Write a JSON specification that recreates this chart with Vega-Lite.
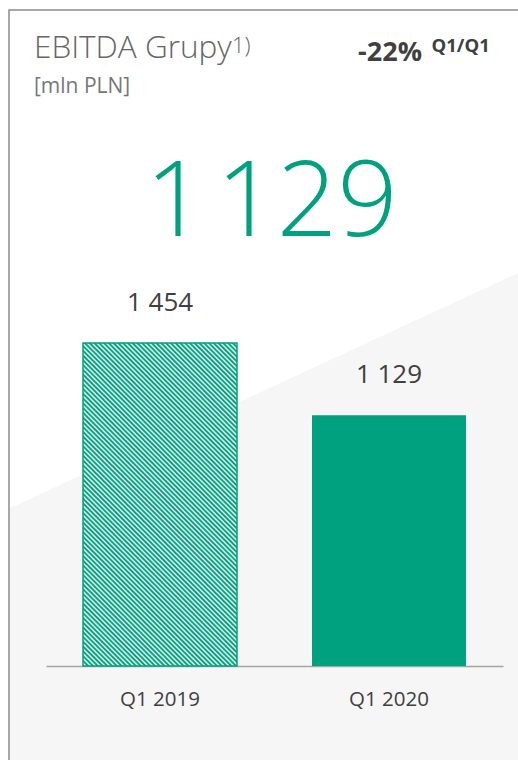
{
  "$schema": "https://vega.github.io/schema/vega-lite/v6.json",
  "autosize": {"type": "none"},
  "padding": {"left": 9, "top": 10, "right": 0, "bottom": 0},
  "width": 509,
  "height": 750,
  "background": "#ffffff",
  "config": {
    "font": "Open Sans",
    "locale": {"number": {"decimal": ",", "thousands": " ", "grouping": [3], "currency": ["", " zł"]}}
  },
  "view": {
    "fill": {"gradient": "linear", "x1": -0.00314, "y1": 0.6547, "x2": 0.00314, "y2": 0.6747,
      "stops": [{"offset": 0, "color": "#ffffff"}, {"offset": 0.5, "color": "#ffffff"}, {"offset": 0.5, "color": "#f6f6f6"}, {"offset": 1, "color": "#f6f6f6"}]},
    "stroke": "#8c8c8c",
    "strokeWidth": 1.5,
    "strokeDash": [509, 1259, 750]
  },
  "title": {
    "text": "EBITDA Grupy",
    "subtitle": "[mln PLN]",
    "anchor": "start",
    "frame": "group",
    "orient": "top",
    "dx": 25,
    "offset": -87,
    "font": "Open Sans",
    "fontSize": 31.5,
    "fontWeight": 300,
    "color": "#666666",
    "subtitleFont": "Open Sans",
    "subtitleFontSize": 21,
    "subtitleFontWeight": 400,
    "subtitleColor": "#777777",
    "subtitlePadding": 12
  },
  "data": {"values": [
    {"period": "Q1 2019", "value": 1454},
    {"period": "Q1 2020", "value": 1129}
  ]},
  "layer": [
    {
      "transform": [{"filter": "datum.period === 'Q1 2019'"}],
      "mark": {"type": "bar", "stroke": "#00a17e", "strokeWidth": 1.5,
        "fill": {"gradient": "linear", "x1": 0, "y1": 1, "x2": 0.5737, "y2": -0.2033, "stops": [
{"offset":0,"color":"#00a17e"},{"offset":0.002,"color":"#00a17e"},{"offset":0.006,"color":"#fff"},{"offset":0.01,"color":"#00a17e"},{"offset":0.012,"color":"#00a17e"},{"offset":0.016,"color":"#fff"},{"offset":0.02,"color":"#00a17e"},{"offset":0.022,"color":"#00a17e"},{"offset":0.026,"color":"#fff"},{"offset":0.03,"color":"#00a17e"},{"offset":0.032,"color":"#00a17e"},{"offset":0.036,"color":"#fff"},{"offset":0.04,"color":"#00a17e"},{"offset":0.042,"color":"#00a17e"},{"offset":0.046,"color":"#fff"},
{"offset":0.05,"color":"#00a17e"},{"offset":0.052,"color":"#00a17e"},{"offset":0.056,"color":"#fff"},{"offset":0.06,"color":"#00a17e"},{"offset":0.062,"color":"#00a17e"},{"offset":0.066,"color":"#fff"},{"offset":0.07,"color":"#00a17e"},{"offset":0.072,"color":"#00a17e"},{"offset":0.076,"color":"#fff"},{"offset":0.08,"color":"#00a17e"},{"offset":0.082,"color":"#00a17e"},{"offset":0.086,"color":"#fff"},{"offset":0.09,"color":"#00a17e"},{"offset":0.092,"color":"#00a17e"},{"offset":0.096,"color":"#fff"},
{"offset":0.1,"color":"#00a17e"},{"offset":0.102,"color":"#00a17e"},{"offset":0.106,"color":"#fff"},{"offset":0.11,"color":"#00a17e"},{"offset":0.112,"color":"#00a17e"},{"offset":0.116,"color":"#fff"},{"offset":0.12,"color":"#00a17e"},{"offset":0.122,"color":"#00a17e"},{"offset":0.126,"color":"#fff"},{"offset":0.13,"color":"#00a17e"},{"offset":0.132,"color":"#00a17e"},{"offset":0.136,"color":"#fff"},{"offset":0.14,"color":"#00a17e"},{"offset":0.142,"color":"#00a17e"},{"offset":0.146,"color":"#fff"},
{"offset":0.15,"color":"#00a17e"},{"offset":0.152,"color":"#00a17e"},{"offset":0.156,"color":"#fff"},{"offset":0.16,"color":"#00a17e"},{"offset":0.162,"color":"#00a17e"},{"offset":0.166,"color":"#fff"},{"offset":0.17,"color":"#00a17e"},{"offset":0.172,"color":"#00a17e"},{"offset":0.176,"color":"#fff"},{"offset":0.18,"color":"#00a17e"},{"offset":0.182,"color":"#00a17e"},{"offset":0.186,"color":"#fff"},{"offset":0.19,"color":"#00a17e"},{"offset":0.192,"color":"#00a17e"},{"offset":0.196,"color":"#fff"},
{"offset":0.2,"color":"#00a17e"},{"offset":0.202,"color":"#00a17e"},{"offset":0.206,"color":"#fff"},{"offset":0.21,"color":"#00a17e"},{"offset":0.212,"color":"#00a17e"},{"offset":0.216,"color":"#fff"},{"offset":0.22,"color":"#00a17e"},{"offset":0.222,"color":"#00a17e"},{"offset":0.226,"color":"#fff"},{"offset":0.23,"color":"#00a17e"},{"offset":0.232,"color":"#00a17e"},{"offset":0.236,"color":"#fff"},{"offset":0.24,"color":"#00a17e"},{"offset":0.242,"color":"#00a17e"},{"offset":0.246,"color":"#fff"},
{"offset":0.25,"color":"#00a17e"},{"offset":0.252,"color":"#00a17e"},{"offset":0.256,"color":"#fff"},{"offset":0.26,"color":"#00a17e"},{"offset":0.262,"color":"#00a17e"},{"offset":0.266,"color":"#fff"},{"offset":0.27,"color":"#00a17e"},{"offset":0.272,"color":"#00a17e"},{"offset":0.276,"color":"#fff"},{"offset":0.28,"color":"#00a17e"},{"offset":0.282,"color":"#00a17e"},{"offset":0.286,"color":"#fff"},{"offset":0.29,"color":"#00a17e"},{"offset":0.292,"color":"#00a17e"},{"offset":0.296,"color":"#fff"},
{"offset":0.3,"color":"#00a17e"},{"offset":0.302,"color":"#00a17e"},{"offset":0.306,"color":"#fff"},{"offset":0.31,"color":"#00a17e"},{"offset":0.312,"color":"#00a17e"},{"offset":0.316,"color":"#fff"},{"offset":0.32,"color":"#00a17e"},{"offset":0.322,"color":"#00a17e"},{"offset":0.326,"color":"#fff"},{"offset":0.33,"color":"#00a17e"},{"offset":0.332,"color":"#00a17e"},{"offset":0.336,"color":"#fff"},{"offset":0.34,"color":"#00a17e"},{"offset":0.342,"color":"#00a17e"},{"offset":0.346,"color":"#fff"},
{"offset":0.35,"color":"#00a17e"},{"offset":0.352,"color":"#00a17e"},{"offset":0.356,"color":"#fff"},{"offset":0.36,"color":"#00a17e"},{"offset":0.362,"color":"#00a17e"},{"offset":0.366,"color":"#fff"},{"offset":0.37,"color":"#00a17e"},{"offset":0.372,"color":"#00a17e"},{"offset":0.376,"color":"#fff"},{"offset":0.38,"color":"#00a17e"},{"offset":0.382,"color":"#00a17e"},{"offset":0.386,"color":"#fff"},{"offset":0.39,"color":"#00a17e"},{"offset":0.392,"color":"#00a17e"},{"offset":0.396,"color":"#fff"},
{"offset":0.4,"color":"#00a17e"},{"offset":0.402,"color":"#00a17e"},{"offset":0.406,"color":"#fff"},{"offset":0.41,"color":"#00a17e"},{"offset":0.412,"color":"#00a17e"},{"offset":0.416,"color":"#fff"},{"offset":0.42,"color":"#00a17e"},{"offset":0.422,"color":"#00a17e"},{"offset":0.426,"color":"#fff"},{"offset":0.43,"color":"#00a17e"},{"offset":0.432,"color":"#00a17e"},{"offset":0.436,"color":"#fff"},{"offset":0.44,"color":"#00a17e"},{"offset":0.442,"color":"#00a17e"},{"offset":0.446,"color":"#fff"},
{"offset":0.45,"color":"#00a17e"},{"offset":0.452,"color":"#00a17e"},{"offset":0.456,"color":"#fff"},{"offset":0.46,"color":"#00a17e"},{"offset":0.462,"color":"#00a17e"},{"offset":0.466,"color":"#fff"},{"offset":0.47,"color":"#00a17e"},{"offset":0.472,"color":"#00a17e"},{"offset":0.476,"color":"#fff"},{"offset":0.48,"color":"#00a17e"},{"offset":0.482,"color":"#00a17e"},{"offset":0.486,"color":"#fff"},{"offset":0.49,"color":"#00a17e"},{"offset":0.492,"color":"#00a17e"},{"offset":0.496,"color":"#fff"},
{"offset":0.5,"color":"#00a17e"},{"offset":0.502,"color":"#00a17e"},{"offset":0.506,"color":"#fff"},{"offset":0.51,"color":"#00a17e"},{"offset":0.512,"color":"#00a17e"},{"offset":0.516,"color":"#fff"},{"offset":0.52,"color":"#00a17e"},{"offset":0.522,"color":"#00a17e"},{"offset":0.526,"color":"#fff"},{"offset":0.53,"color":"#00a17e"},{"offset":0.532,"color":"#00a17e"},{"offset":0.536,"color":"#fff"},{"offset":0.54,"color":"#00a17e"},{"offset":0.542,"color":"#00a17e"},{"offset":0.546,"color":"#fff"},
{"offset":0.55,"color":"#00a17e"},{"offset":0.552,"color":"#00a17e"},{"offset":0.556,"color":"#fff"},{"offset":0.56,"color":"#00a17e"},{"offset":0.562,"color":"#00a17e"},{"offset":0.566,"color":"#fff"},{"offset":0.57,"color":"#00a17e"},{"offset":0.572,"color":"#00a17e"},{"offset":0.576,"color":"#fff"},{"offset":0.58,"color":"#00a17e"},{"offset":0.582,"color":"#00a17e"},{"offset":0.586,"color":"#fff"},{"offset":0.59,"color":"#00a17e"},{"offset":0.592,"color":"#00a17e"},{"offset":0.596,"color":"#fff"},
{"offset":0.6,"color":"#00a17e"},{"offset":0.602,"color":"#00a17e"},{"offset":0.606,"color":"#fff"},{"offset":0.61,"color":"#00a17e"},{"offset":0.612,"color":"#00a17e"},{"offset":0.616,"color":"#fff"},{"offset":0.62,"color":"#00a17e"},{"offset":0.622,"color":"#00a17e"},{"offset":0.626,"color":"#fff"},{"offset":0.63,"color":"#00a17e"},{"offset":0.632,"color":"#00a17e"},{"offset":0.636,"color":"#fff"},{"offset":0.64,"color":"#00a17e"},{"offset":0.642,"color":"#00a17e"},{"offset":0.646,"color":"#fff"},
{"offset":0.65,"color":"#00a17e"},{"offset":0.652,"color":"#00a17e"},{"offset":0.656,"color":"#fff"},{"offset":0.66,"color":"#00a17e"},{"offset":0.662,"color":"#00a17e"},{"offset":0.666,"color":"#fff"},{"offset":0.67,"color":"#00a17e"},{"offset":0.672,"color":"#00a17e"},{"offset":0.676,"color":"#fff"},{"offset":0.68,"color":"#00a17e"},{"offset":0.682,"color":"#00a17e"},{"offset":0.686,"color":"#fff"},{"offset":0.69,"color":"#00a17e"},{"offset":0.692,"color":"#00a17e"},{"offset":0.696,"color":"#fff"},
{"offset":0.7,"color":"#00a17e"},{"offset":0.702,"color":"#00a17e"},{"offset":0.706,"color":"#fff"},{"offset":0.71,"color":"#00a17e"},{"offset":0.712,"color":"#00a17e"},{"offset":0.716,"color":"#fff"},{"offset":0.72,"color":"#00a17e"},{"offset":0.722,"color":"#00a17e"},{"offset":0.726,"color":"#fff"},{"offset":0.73,"color":"#00a17e"},{"offset":0.732,"color":"#00a17e"},{"offset":0.736,"color":"#fff"},{"offset":0.74,"color":"#00a17e"},{"offset":0.742,"color":"#00a17e"},{"offset":0.746,"color":"#fff"},
{"offset":0.75,"color":"#00a17e"},{"offset":0.752,"color":"#00a17e"},{"offset":0.756,"color":"#fff"},{"offset":0.76,"color":"#00a17e"},{"offset":0.762,"color":"#00a17e"},{"offset":0.766,"color":"#fff"},{"offset":0.77,"color":"#00a17e"},{"offset":0.772,"color":"#00a17e"},{"offset":0.776,"color":"#fff"},{"offset":0.78,"color":"#00a17e"},{"offset":0.782,"color":"#00a17e"},{"offset":0.786,"color":"#fff"},{"offset":0.79,"color":"#00a17e"},{"offset":0.792,"color":"#00a17e"},{"offset":0.796,"color":"#fff"},
{"offset":0.8,"color":"#00a17e"},{"offset":0.802,"color":"#00a17e"},{"offset":0.806,"color":"#fff"},{"offset":0.81,"color":"#00a17e"},{"offset":0.812,"color":"#00a17e"},{"offset":0.816,"color":"#fff"},{"offset":0.82,"color":"#00a17e"},{"offset":0.822,"color":"#00a17e"},{"offset":0.826,"color":"#fff"},{"offset":0.83,"color":"#00a17e"},{"offset":0.832,"color":"#00a17e"},{"offset":0.836,"color":"#fff"},{"offset":0.84,"color":"#00a17e"},{"offset":0.842,"color":"#00a17e"},{"offset":0.846,"color":"#fff"},
{"offset":0.85,"color":"#00a17e"},{"offset":0.852,"color":"#00a17e"},{"offset":0.856,"color":"#fff"},{"offset":0.86,"color":"#00a17e"},{"offset":0.862,"color":"#00a17e"},{"offset":0.866,"color":"#fff"},{"offset":0.87,"color":"#00a17e"},{"offset":0.872,"color":"#00a17e"},{"offset":0.876,"color":"#fff"},{"offset":0.88,"color":"#00a17e"},{"offset":0.882,"color":"#00a17e"},{"offset":0.886,"color":"#fff"},{"offset":0.89,"color":"#00a17e"},{"offset":0.892,"color":"#00a17e"},{"offset":0.896,"color":"#fff"},
{"offset":0.9,"color":"#00a17e"},{"offset":0.902,"color":"#00a17e"},{"offset":0.906,"color":"#fff"},{"offset":0.91,"color":"#00a17e"},{"offset":0.912,"color":"#00a17e"},{"offset":0.916,"color":"#fff"},{"offset":0.92,"color":"#00a17e"},{"offset":0.922,"color":"#00a17e"},{"offset":0.926,"color":"#fff"},{"offset":0.93,"color":"#00a17e"},{"offset":0.932,"color":"#00a17e"},{"offset":0.936,"color":"#fff"},{"offset":0.94,"color":"#00a17e"},{"offset":0.942,"color":"#00a17e"},{"offset":0.946,"color":"#fff"},
{"offset":0.95,"color":"#00a17e"},{"offset":0.952,"color":"#00a17e"},{"offset":0.956,"color":"#fff"},{"offset":0.96,"color":"#00a17e"},{"offset":0.962,"color":"#00a17e"},{"offset":0.966,"color":"#fff"},{"offset":0.97,"color":"#00a17e"},{"offset":0.972,"color":"#00a17e"},{"offset":0.976,"color":"#fff"},{"offset":0.98,"color":"#00a17e"},{"offset":0.982,"color":"#00a17e"},{"offset":0.986,"color":"#fff"},{"offset":0.99,"color":"#00a17e"},{"offset":0.992,"color":"#00a17e"},{"offset":0.996,"color":"#fff"},
{"offset":1,"color":"#00a17e"}
        ]}},
      "encoding": {
        "x": {"field": "period", "type": "nominal", "sort": null,
          "scale": {"domain": ["Q1 2019", "Q1 2020"], "range": [37, 494], "paddingInner": 0.3275, "paddingOuter": 0.1616},
          "axis": {"title": null, "orient": "bottom", "offset": -94, "domainColor": "#a5a5a5", "domainWidth": 1.5, "ticks": false, "grid": false, "labelAngle": 0, "labelFont": "Open Sans", "labelFontSize": 20.5, "labelColor": "#404040", "labelPadding": 23}},
        "y": {"field": "value", "type": "quantitative", "scale": {"domain": [0, 2953], "range": [656, 0], "nice": false, "zero": true}, "axis": null}
      }
    },
    {
      "transform": [{"filter": "datum.period === 'Q1 2020'"}],
      "mark": {"type": "bar", "fill": "#00a17e"},
      "encoding": {
        "x": {"field": "period", "type": "nominal", "sort": null,
          "scale": {"domain": ["Q1 2019", "Q1 2020"], "range": [37, 494], "paddingInner": 0.3275, "paddingOuter": 0.1616},
          "axis": {"title": null, "orient": "bottom", "offset": -94, "domainColor": "#a5a5a5", "domainWidth": 1.5, "ticks": false, "grid": false, "labelAngle": 0, "labelFont": "Open Sans", "labelFontSize": 20.5, "labelColor": "#404040", "labelPadding": 23}},
        "y": {"field": "value", "type": "quantitative", "scale": {"domain": [0, 2953], "range": [656, 0], "nice": false, "zero": true}, "axis": null}
      }
    },
    {
      "mark": {"type": "text", "dy": -32, "fontSize": 26, "color": "#404040", "baseline": "alphabetic", "font": "Open Sans"},
      "encoding": {
        "x": {"field": "period", "type": "nominal", "sort": null,
          "scale": {"domain": ["Q1 2019", "Q1 2020"], "range": [37, 494], "paddingInner": 0.3275, "paddingOuter": 0.1616}},
        "y": {"field": "value", "type": "quantitative", "scale": {"domain": [0, 2953], "range": [656, 0], "nice": false, "zero": true}, "axis": null},
        "text": {"field": "value", "type": "quantitative", "format": ",d"}
      }
    },
    {
      "data": {"values": [{}]},
      "mark": {"type": "text", "text": "1\u200a129", "fontSize": 106, "fontWeight": 300, "color": "#00a17e", "baseline": "alphabetic", "align": "center", "dx": 8, "font": "Open Sans"},
      "encoding": {
        "y": {"datum": 1936, "type": "quantitative", "scale": {"domain": [0, 2953], "range": [656, 0], "nice": false, "zero": true}, "axis": null}
      }
    },
    {
      "data": {"values": [{}]},
      "mark": {"type": "text", "text": "-22%", "fontSize": 27, "fontWeight": "bold", "color": "#404040", "baseline": "alphabetic", "align": "right", "dx": 158.5, "font": "Open Sans"},
      "encoding": {
        "y": {"datum": 2723, "type": "quantitative", "scale": {"domain": [0, 2953], "range": [656, 0], "nice": false, "zero": true}, "axis": null}
      }
    },
    {
      "data": {"values": [{}]},
      "mark": {"type": "text", "text": "Q1/Q1", "fontSize": 18.5, "fontWeight": "bold", "color": "#404040", "baseline": "alphabetic", "align": "left", "dx": 168, "font": "Open Sans"},
      "encoding": {
        "y": {"datum": 2764, "type": "quantitative", "scale": {"domain": [0, 2953], "range": [656, 0], "nice": false, "zero": true}, "axis": null}
      }
    },
    {
      "data": {"values": [{}]},
      "mark": {"type": "text", "text": "1)", "fontSize": 22, "fontWeight": 300, "color": "#666666", "baseline": "alphabetic", "align": "left", "dx": -31.5, "font": "Open Sans"},
      "encoding": {
        "y": {"datum": 2759, "type": "quantitative", "scale": {"domain": [0, 2953], "range": [656, 0], "nice": false, "zero": true}, "axis": null}
      }
    }
  ]
}
